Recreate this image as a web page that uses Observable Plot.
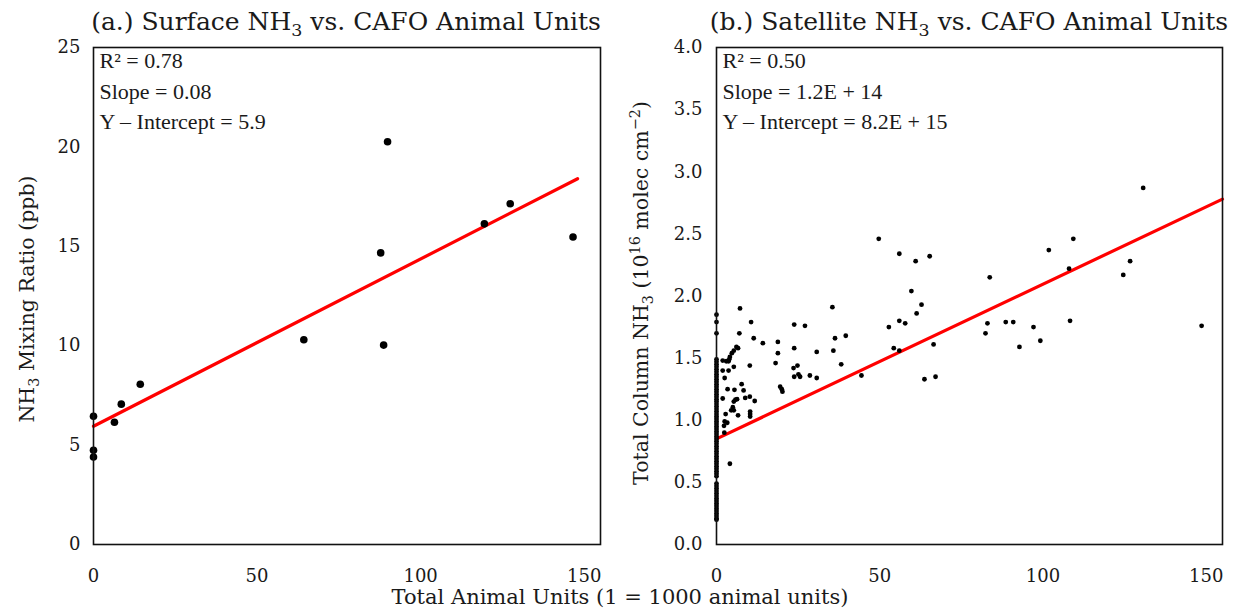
<!DOCTYPE html>
<html><head><meta charset="utf-8">
<script src="https://cdn.jsdelivr.net/npm/d3@7"></script>
<script src="https://cdn.jsdelivr.net/npm/@observablehq/plot@0.6"></script>
<style>
body{margin:0;background:#fff;}
#fig{position:relative;width:1235px;height:609px;font-family:"DejaVu Serif",serif;color:#1a1a1a;overflow:hidden;}
.plot{position:absolute;top:0;}
.title{position:absolute;top:0px;font-size:25px;text-align:center;white-space:nowrap;transform:translateX(-50%);line-height:38px;}
.ylab{position:absolute;font-size:20.5px;white-space:nowrap;transform:translate(-50%,-50%) rotate(-90deg);}
.xlab{position:absolute;font-size:21px;white-space:nowrap;transform:translate(-50%,-50%);}
sub,sup{font-size:0.7em;line-height:0;}
</style>
</head><body>
<div id="fig"></div>
<script>
// ---- Data ----
const xTicks = [0, 50, 100, 150];
const yTicksA = [0, 5, 10, 15, 20, 25];
const yTicksB = [0, 0.5, 1.0, 1.5, 2.0, 2.5, 3.0, 3.5, 4.0];

// (a) Surface NH3 (ppb) vs CAFO animal units (thousands)
const surfaceUnits = [0, 0, 0, 6.4, 8.5, 14.3, 64.3, 87.8, 89.9, 88.7, 119.5, 127.4, 146.6];
const surfaceNH3   = [6.45, 4.74, 4.4, 6.15, 7.06, 8.06, 10.3, 14.67, 20.26, 10.03, 16.13, 17.14, 15.47];
const fitAUnits = [0, 148];
const fitANH3 = [5.95, 18.4];
const statsA = ["R² = 0.78", "Slope = 0.08", "Y – Intercept = 5.9"];

// (b) Satellite total column NH3 (1e16 molec cm^-2) vs CAFO animal units
const satZeroNH3 = [1.85, 1.79, 1.70, 1.49, 1.47, 1.45, 1.43, 1.41, 1.39, 1.37, 1.35, 1.33, 1.31, 1.29,
  1.27, 1.25, 1.23, 1.21, 1.19, 1.17, 1.15, 1.13, 1.11, 1.09, 1.07, 1.05, 1.03, 1.01, 0.99, 0.97, 0.95,
  0.93, 0.91, 0.89, 0.87, 0.85, 0.83, 0.81, 0.79, 0.77, 0.75, 0.73, 0.71, 0.69, 0.67, 0.65, 0.63, 0.61,
  0.59, 0.57, 0.55, 0.49, 0.47, 0.45, 0.43, 0.41, 0.39, 0.37, 0.35, 0.33, 0.31, 0.29, 0.27, 0.25, 0.23,
  0.21, 0.20];
const satUnits = [1.9, 3.0, 3.7, 3.9, 4.1, 4.7, 5.3, 6.1, 6.6,
  7.2, 10.6, 7.0, 11.4, 14.2, 10.2,
  1.9, 3.7, 5.3, 2.5, 3.4, 5.5, 7.7, 8.3,
  1.9, 5.8, 6.3, 5.3, 5.0, 4.5, 5.3, 6.6,
  8.8, 10.2, 11.7, 10.3, 10.3, 10.3,
  2.8, 2.5, 3.3, 2.3, 2.4, 4.1,
  18.8, 18.8, 18.1, 19.5, 20.0, 20.2,
  23.8, 27.1, 23.8, 24.8, 23.6, 25.1, 23.8, 25.6, 28.6, 30.7, 30.7,
  35.5, 36.3, 39.6, 35.8, 38.2, 44.4,
  49.7, 56.0, 61.0, 65.3, 59.7, 62.8, 61.3,
  52.8, 56.0, 57.8, 54.3, 56.0, 66.5, 63.7, 67.1,
  83.7, 83.0, 82.4, 88.6, 90.9, 97.1, 92.8, 99.2,
  101.8, 109.3, 108.0, 108.3, 124.6, 126.7, 130.7, 148.6];
const satNH3 = [1.48, 1.475, 1.475, 1.49, 1.51, 1.54, 1.56, 1.59, 1.58,
  1.90, 1.79, 1.70, 1.66, 1.62, 1.44,
  1.40, 1.40, 1.43, 1.34, 1.25, 1.245, 1.29, 1.24,
  1.175, 1.165, 1.17, 1.15, 1.105, 1.08, 1.08, 1.04,
  1.18, 1.19, 1.155, 1.07, 1.05, 1.03,
  1.05, 0.99, 0.98, 0.955, 0.90, 0.65,
  1.63, 1.54, 1.46, 1.27, 1.25, 1.23,
  1.77, 1.76, 1.58, 1.44, 1.42, 1.37, 1.35, 1.35, 1.36, 1.34, 1.55,
  1.91, 1.66, 1.68, 1.56, 1.45, 1.36,
  2.46, 2.34, 2.28, 2.32, 2.04, 1.93, 1.86,
  1.75, 1.80, 1.78, 1.58, 1.56, 1.61, 1.33, 1.35,
  2.15, 1.78, 1.70, 1.79, 1.79, 1.75, 1.59, 1.64,
  2.37, 2.46, 2.22, 1.80, 2.17, 2.28, 2.87, 1.76];
const fitBUnits = [0, 155];
const fitBNH3 = [0.85, 2.78];
const statsB = ["R² = 0.50", "Slope = 1.2E + 14", "Y – Intercept = 8.2E + 15"];

// ---- Build tables ----
const surface = surfaceUnits.map((u, i) => ({units: u, nh3: surfaceNH3[i]}));
const fitA = fitAUnits.map((u, i) => ({units: u, nh3: fitANH3[i]}));
const satellite = satZeroNH3.map(v => ({units: 0, nh3: v}))
  .concat(satUnits.map((u, i) => ({units: u, nh3: satNH3[i]})));
const fitB = fitBUnits.map((u, i) => ({units: u, nh3: fitBNH3[i]}));

const fig = document.getElementById("fig");

function panel({width, marginLeft, marginRight, yDomain, yTicks, yFormat, data, fit, stats, r, tickPadY}) {
  return Plot.plot({
    width, height: 609,
    marginLeft, marginRight, marginTop: 47, marginBottom: 65,
    style: {fontFamily: "DejaVu Serif", fontSize: "18px", background: "transparent", color: "#1a1a1a"},
    x: {domain: [0, 155]},
    y: {domain: yDomain},
    marks: [
      Plot.axisX({ticks: xTicks, tickSize: 0, tickPadding: 25, label: null, fontSize: 18}),
      Plot.axisY({ticks: yTicks, tickSize: 0, tickPadding: tickPadY, label: null, tickFormat: yFormat, fontSize: 18}),
      Plot.line(fit, {x: "units", y: "nh3", stroke: "#ff0000", strokeWidth: 3.2}),
      Plot.dot(data, {x: "units", y: "nh3", r, fill: "black", stroke: "none"}),
      Plot.text([stats.join("\n")], {frameAnchor: "top-left", dx: 6, dy: -1, lineAnchor: "top",
        textAnchor: "start", lineHeight: 1.39, fontSize: 22, fontFamily: "Liberation Serif", fill: "#1a1a1a"}),
      Plot.frame({stroke: "#111", strokeWidth: 1.6})
    ]
  });
}

const pa = panel({width: 620, marginLeft: 93, marginRight: 20, yDomain: [0, 25], yTicks: yTicksA,
  yFormat: d => String(d), data: surface, fit: fitA, stats: statsA, r: 3.8, tickPadY: 13});
pa.classList.add("plot"); pa.style.left = "0px";
fig.appendChild(pa);

const pb = panel({width: 615, marginLeft: 96, marginRight: 13, yDomain: [0, 4], yTicks: yTicksB,
  yFormat: d3.format(".1f"), data: satellite, fit: fitB, stats: statsB, r: 2.4, tickPadY: 14});
pb.classList.add("plot"); pb.style.left = "620px";
fig.appendChild(pb);

function addDiv(cls, html, left, top) {
  const d = document.createElement("div");
  d.className = cls; d.innerHTML = html;
  d.style.left = left + "px"; d.style.top = top + "px";
  fig.appendChild(d);
}
addDiv("title", "(a.) Surface NH<sub>3</sub> vs. CAFO Animal Units", 346, 3);
addDiv("title", "(b.) Satellite NH<sub>3</sub> vs. CAFO Animal Units", 969, 3);
addDiv("ylab", "NH<sub>3</sub> Mixing Ratio (ppb)", 27, 299);
addDiv("ylab", "Total Column NH<sub>3</sub> (10<sup>16</sup> molec cm<sup>−2</sup>)", 641, 293);
addDiv("xlab", "Total Animal Units (1 = 1000 animal units)", 620, 597);
</script>
</body></html>
